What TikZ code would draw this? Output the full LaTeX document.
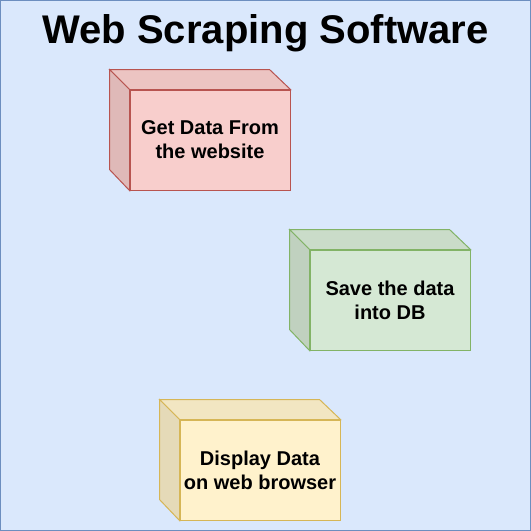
\documentclass[tikz,border=0pt]{standalone}
\usepackage{fontspec}
\setmainfont{Liberation Sans}
\definecolor{bgfill}{HTML}{DAE8FC}
\definecolor{bgdraw}{HTML}{6C8EBF}
\definecolor{rfill}{HTML}{F8CECC}
\definecolor{rdraw}{HTML}{B85450}
\definecolor{gfill}{HTML}{D5E8D4}
\definecolor{gdraw}{HTML}{82B366}
\definecolor{yfill}{HTML}{FFF2CC}
\definecolor{ydraw}{HTML}{D6B656}
\tikzset{
  front/.style={draw, line width=1pt, minimum width=160pt, minimum height=100pt, align=center, inner sep=0pt,
    font=\fontsize{20}{24}\selectfont\bfseries},
  face/.style={line width=1pt, line join=miter},
}
\newcommand{\cubefaces}[3]{%
  \filldraw[face, fill=#2!95!black, draw=#3] (#1.north west) -- ++(-20,-20) -- ++(160,0) -- (#1.north east) -- cycle;
  \filldraw[face, fill=#2!90!black, draw=#3] (#1.north west) -- ++(-20,-20) -- ++(0,100) -- (#1.south west) -- cycle;
}
\begin{document}
\begin{tikzpicture}[x=1pt,y=-1pt]
\useasboundingbox (0,0) rectangle (531,531);
\draw[fill=bgfill, draw=bgdraw, line width=1pt] (0.5,0.5) rectangle (530.5,530.5);
\node[font=\fontsize{40}{48}\selectfont\bfseries] (title) at (265.5,33.5) {Web Scraping Software};
\node[front, fill=rfill, draw=rdraw] (get) at (210,140) {Get Data From\\the website};
\cubefaces{get}{rfill}{rdraw}
\node[front, fill=gfill, draw=gdraw] (save) at (390,300) {Save the data\\into DB};
\cubefaces{save}{gfill}{gdraw}
\node[front, fill=yfill, draw=ydraw] (disp) at (260,470) {Display Data\\on web browser};
\cubefaces{disp}{yfill}{ydraw}
\end{tikzpicture}
\end{document}
